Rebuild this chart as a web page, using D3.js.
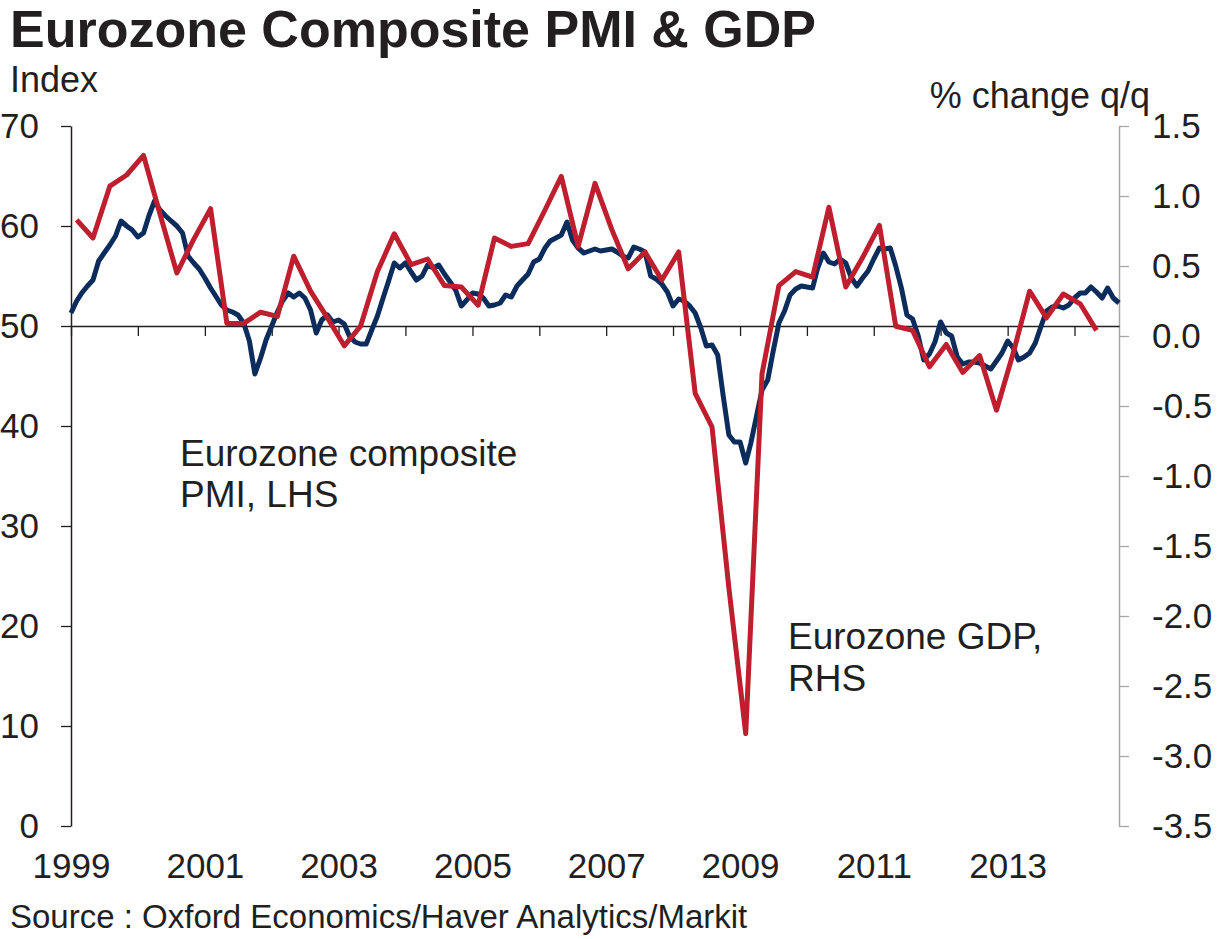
<!DOCTYPE html>
<html>
<head>
<meta charset="utf-8">
<script src="https://cdn.jsdelivr.net/npm/d3@7"></script>
<style>
  body { margin: 0; background: #fff; }
  text { font-family: "Liberation Sans", Arial, sans-serif; fill: #231f20; }
</style>
</head>
<body>
<svg id="chart" width="1219" height="939"></svg>
<script>
// monthly composite PMI, Jan 1999 onwards
var pmiStart = new Date(1999, 0, 1);
var pmi = [
  51.3, 52.5, 53.3, 54.0, 54.6, 56.5, 57.3, 58.1, 59.0, 60.5, 60.0, 59.6,
  58.9, 59.3, 61.0, 62.5, 61.6, 61.0, 60.5, 60.0, 59.3, 57.0, 56.3, 55.7,
  54.8, 53.8, 53.0, 52.1, 51.6, 51.4, 51.1, 50.3, 48.5, 45.2, 46.8, 48.6,
  50.0, 51.4, 52.5, 53.3, 52.9, 53.3, 52.8, 51.6, 49.3, 50.6, 51.1, 50.4,
  50.6, 50.2, 49.0, 48.4, 48.2, 48.2, 49.6, 51.0, 52.8, 54.5, 56.3, 55.8,
  56.3, 55.4, 54.6, 55.0, 56.1, 55.8, 56.1, 55.2, 54.4, 53.6, 52.0, 52.6,
  53.3, 53.2, 52.8, 52.0, 52.1, 52.3, 53.1, 52.9, 54.0, 54.6, 55.2, 56.4,
  56.7, 57.8, 58.5, 58.8, 59.1, 60.4, 58.6, 57.8, 57.3, 57.5, 57.7, 57.5,
  57.6, 57.7, 57.4, 57.0, 56.8, 57.9, 57.7, 57.4, 55.0, 54.7, 54.2, 53.4,
  52.0, 52.7, 52.5, 52.0, 51.3, 49.8, 48.0, 48.1, 47.1, 43.0, 39.1, 38.4,
  38.4, 36.3, 38.3, 41.0, 43.6, 44.6, 47.5, 50.3, 51.5, 53.1, 53.7, 54.0,
  53.9, 53.8, 55.8, 57.3, 56.4, 56.2, 56.7, 56.3, 54.8, 54.0, 54.8, 55.5,
  56.7, 57.8, 57.7, 57.8, 56.0, 53.8, 51.1, 50.7, 49.0, 46.6, 47.2, 48.4,
  50.4, 49.3, 49.0, 46.9, 46.2, 46.4, 46.4, 46.3, 46.0, 45.7, 46.5, 47.3,
  48.5, 47.8, 46.6, 46.9, 47.3, 48.3, 49.9, 51.5, 51.9, 52.0, 51.8, 52.1,
  52.8, 53.3, 53.3, 53.9, 53.4, 52.8, 53.8, 52.8, 52.3
];

// quarterly GDP % change q/q, Q1 1999 onwards (plotted at the middle month)
var gdpStart = new Date(1999, 1, 1);
var gdp = [
  0.83, 0.70, 1.07, 1.15,
  1.29, 0.87, 0.45, 0.69,
  0.91, 0.09, 0.09, 0.17,
  0.14, 0.57, 0.32, 0.13,
  -0.07, 0.07, 0.46, 0.73,
  0.51, 0.55, 0.36, 0.35,
  0.22, 0.70, 0.64, 0.66,
  0.90, 1.14, 0.64, 1.09,
  0.76, 0.48, 0.60, 0.40,
  0.60, -0.41, -0.65, -1.80,
  -2.84, -0.27, 0.36, 0.46,
  0.42, 0.92, 0.35, 0.56,
  0.79, 0.07, 0.04, -0.22,
  -0.06, -0.26, -0.14, -0.53,
  -0.12, 0.32, 0.13, 0.30,
  0.23, 0.04
];

var leftTicks = [0, 10, 20, 30, 40, 50, 60, 70];
var rightTicks = [-3.5, -3.0, -2.5, -2.0, -1.5, -1.0, -0.5, 0.0, 0.5, 1.0, 1.5];
var yearLabels = [1999, 2001, 2003, 2005, 2007, 2009, 2011, 2013];

var svg = d3.select('#chart');

var x = d3.scaleTime()
          .domain([new Date(1999, 0, 1), new Date(2014, 8, 1)])
          .range([71, 1119]);
var yL = d3.scaleLinear().domain([0, 70]).range([826, 126]);
var yR = d3.scaleLinear().domain([-3.5, 1.5]).range([826, 126]);

var pmiData = pmi.map(function(v, i){
  return {date: d3.timeMonth.offset(pmiStart, i), value: v};
});
var gdpData = gdp.map(function(v, i){
  return {date: d3.timeMonth.offset(gdpStart, i * 3), value: v};
});

// left axis
var gl = svg.append('g')
  .attr('transform', 'translate(71,0)')
  .call(d3.axisLeft(yL).tickValues(leftTicks).tickSize(10).tickPadding(22).tickSizeOuter(0));
gl.select('.domain').attr('stroke', '#231f20').attr('stroke-width', 1.5);
gl.selectAll('.tick line').attr('stroke', '#231f20').attr('stroke-width', 1.3);

// right axis
var gr = svg.append('g')
  .attr('transform', 'translate(1119,0)')
  .call(d3.axisRight(yR).tickValues(rightTicks).tickSize(10).tickPadding(23).tickSizeOuter(0)
          .tickFormat(function(d){ return d.toFixed(1); }));
gr.select('.domain').attr('stroke', '#a6a6a6').attr('stroke-width', 1.5);
gr.selectAll('.tick line').attr('stroke', '#a6a6a6').attr('stroke-width', 1.3);

svg.selectAll('.tick text')
  .style('font-size', '35px')
  .attr('fill', '#231f20');

// x axis on the 50 line
var gx = svg.append('g')
  .attr('transform', 'translate(0,' + yL(50) + ')')
  .call(d3.axisBottom(x).ticks(d3.timeYear.every(1)).tickSize(10).tickSizeOuter(0).tickFormat(''));
gx.select('.domain').attr('stroke', '#231f20').attr('stroke-width', 1.5);
gx.selectAll('.tick line').attr('stroke', '#231f20').attr('stroke-width', 1.3);

// year labels under the plot
var gy = svg.append('g')
  .attr('transform', 'translate(0,843)')
  .call(d3.axisBottom(x)
          .tickValues(yearLabels.map(function(y){ return new Date(y, 0, 1); }))
          .tickSize(0).tickPadding(0)
          .tickFormat(d3.timeFormat('%Y')));
gy.select('.domain').remove();
gy.selectAll('text').style('font-size', '35px').attr('fill', '#231f20').attr('dy', '1em');

// lines
var line = function(scale){
  return d3.line()
    .x(function(d){ return x(d.date); })
    .y(function(d){ return scale(d.value); });
};

svg.append('path')
  .datum(pmiData)
  .attr('fill', 'none')
  .attr('stroke', '#0c2c5c')
  .attr('stroke-width', 5)
  .attr('stroke-linejoin', 'round')
  .attr('d', line(yL));

svg.append('path')
  .datum(gdpData)
  .attr('fill', 'none')
  .attr('stroke', '#be1e2d')
  .attr('stroke-width', 5)
  .attr('stroke-linejoin', 'round')
  .attr('d', line(yR));

// titles and notes
svg.append('text')
  .attr('x', 10).attr('y', 47)
  .style('font-size', '52px').style('font-weight', 'bold')
  .text('Eurozone Composite PMI & GDP');

svg.append('text')
  .attr('x', 10).attr('y', 92)
  .style('font-size', '36px')
  .text('Index');

svg.append('text')
  .attr('x', 1150).attr('y', 108)
  .style('font-size', '36px')
  .style('text-anchor', 'end')
  .text('% change q/q');

svg.append('text')
  .attr('x', 180).attr('y', 466)
  .style('font-size', '37px')
  .selectAll('tspan')
  .data(['Eurozone composite', 'PMI, LHS'])
  .enter().append('tspan')
    .attr('x', 180)
    .attr('dy', function(d, i){ return i ? 41 : 0; })
    .text(function(d){ return d; });

svg.append('text')
  .attr('x', 788).attr('y', 649)
  .style('font-size', '37px')
  .selectAll('tspan')
  .data(['Eurozone GDP,', 'RHS'])
  .enter().append('tspan')
    .attr('x', 788)
    .attr('dy', function(d, i){ return i ? 42 : 0; })
    .text(function(d){ return d; });

svg.append('text')
  .attr('x', 10).attr('y', 928)
  .style('font-size', '33px')
  .text('Source : Oxford Economics/Haver Analytics/Markit');
</script>
</body>
</html>
